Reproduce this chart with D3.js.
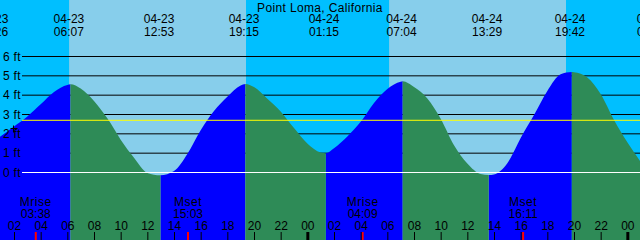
<!DOCTYPE html>
<html>
<head>
<meta charset="utf-8">
<script src="https://cdn.jsdelivr.net/npm/d3@7"></script>
<style>
  html, body { margin: 0; padding: 0; background: #fff; }
  svg { display: block; font-family: "Liberation Sans", Arial, sans-serif; }
</style>
</head>
<body>
<script>
const title = "Point Loma, California";

// tide height (ft), mostly hourly plus the turning points
const tideTimes = [
  "04-23 00:57", "04-23 02:00", "04-23 03:00", "04-23 04:00", "04-23 05:00", "04-23 06:00", "04-23 06:14",
  "04-23 07:00", "04-23 08:00", "04-23 09:00", "04-23 10:00", "04-23 11:00", "04-23 12:00", "04-23 12:59",
  "04-23 14:00", "04-23 15:00", "04-23 16:00", "04-23 17:00", "04-23 18:00", "04-23 19:00", "04-23 19:21",
  "04-23 20:00", "04-23 21:00", "04-23 22:00", "04-23 23:00", "04-24 00:00", "04-24 01:00", "04-24 01:23",
  "04-24 02:00", "04-24 03:00", "04-24 04:00", "04-24 05:00", "04-24 06:00", "04-24 07:00", "04-24 07:09",
  "04-24 08:00", "04-24 09:00", "04-24 10:00", "04-24 11:00", "04-24 12:00", "04-24 13:00", "04-24 13:36",
  "04-24 14:00", "04-24 15:00", "04-24 16:00", "04-24 17:00", "04-24 18:00", "04-24 19:00", "04-24 19:50",
  "04-24 20:00", "04-24 21:00", "04-24 22:00", "04-24 23:00", "04-25 00:00", "04-25 00:57"
];
const tideFeet = [
  1.85, 2.38, 2.90, 3.53, 4.17, 4.53, 4.56,
  4.34, 3.70, 2.80, 1.70, 0.76, -0.02, -0.14,
  0.08, 0.96, 2.19, 3.18, 3.92, 4.50, 4.58,
  4.42, 3.82, 3.16, 2.30, 1.50, 1.03, 0.99,
  1.25, 1.86, 2.62, 3.60, 4.32, 4.70, 4.72,
  4.42, 3.83, 2.78, 1.41, 0.46, -0.08, -0.13,
  -0.10, 0.48, 1.79, 2.97, 4.22, 5.08, 5.20,
  5.19, 4.92, 4.06, 2.72, 1.56, 0.60
];

// high / low tide labels along the top
const eventDates = ["04-23", "04-23", "04-23", "04-23", "04-24", "04-24", "04-24", "04-24", "04-25"];
const eventTimes = ["00:26", "06:07", "12:53", "19:15", "01:15", "07:04", "13:29", "19:42", "01:51"];

const sunrise = ["04-23 06:08", "04-24 06:08"];
const sunset = ["04-23 19:24", "04-24 19:24"];

const moonLabels = ["Mrise", "Mset", "Mrise", "Mset"];
const moonDates = ["04-23", "04-23", "04-24", "04-24"];
const moonTimes = ["03:38", "15:03", "04:09", "16:11"];

const footTicks = [0, 1, 2, 3, 4, 5, 6];
const mslFeet = 2.69;
const nowTime = "04-23 01:57";
const nowFeet = 2.31;

const startTime = "04-23 00:57";
const endTime = "04-25 00:57";

const width = 640;
const height = 240;
const parse = d3.utcParse("%m-%d %H:%M");

const tide = tideTimes.map((t, i) => ({ date: parse(t), ft: tideFeet[i] }));

const x = d3.scaleUtc()
  .domain([parse(startTime), parse(endTime)])
  .range([0, width]);

const y = d3.scaleLinear()
  .domain([0, 6])
  .range([172.5, 56.5]);

const svg = d3.create("svg")
  .attr("width", width)
  .attr("height", height)
  .attr("font-size", 12);

// night / day background
svg.append("rect")
  .attr("width", width).attr("height", height)
  .attr("fill", "#00bfff");
svg.append("g")
  .attr("fill", "#87ceeb")
  .selectAll("rect")
  .data(sunrise.map((s, i) => [parse(s), parse(sunset[i])]))
  .join("rect")
  .attr("x", d => x(d[0]))
  .attr("width", d => x(d[1]) - x(d[0]))
  .attr("height", height);

// foot grid, behind the water
svg.append("g")
  .attr("stroke", "#000")
  .selectAll("line")
  .data(footTicks.filter(d => d > 0))
  .join("line")
  .attr("x1", 22).attr("x2", width)
  .attr("y1", d => y(d)).attr("y2", d => y(d));

// rising (blue) / falling (green) intervals between turning points
const turns = [0];
for (let i = 1; i < tide.length - 1; i++) {
  const a = tide[i].ft - tide[i - 1].ft, b = tide[i + 1].ft - tide[i].ft;
  if (a * b < 0) turns.push(i);
}
turns.push(tide.length - 1);
const spans = d3.pairs(turns).map(([i, j]) => ({
  x0: x(tide[i].date), x1: x(tide[j].date), rising: tide[j].ft > tide[i].ft
}));

const defs = svg.append("defs");
["rise", "fall"].forEach(id => {
  defs.append("clipPath").attr("id", id)
    .selectAll("rect")
    .data(spans.filter(s => s.rising === (id === "rise")))
    .join("rect")
    .attr("x", s => s.x0).attr("width", s => s.x1 - s.x0)
    .attr("y", 0).attr("height", height);
});

const area = d3.area()
  .x(d => x(d.date))
  .y0(height)
  .y1(d => y(d.ft))
  .curve(d3.curveMonotoneX);

svg.append("path").attr("d", area(tide)).attr("fill", "#0000ff").attr("clip-path", "url(#rise)");
svg.append("path").attr("d", area(tide)).attr("fill", "#2e8b57").attr("clip-path", "url(#fall)");

// datum and mean sea level
svg.append("line")
  .attr("x1", 22).attr("x2", width)
  .attr("y1", y(0)).attr("y2", y(0))
  .attr("stroke", "#fff");
svg.append("line")
  .attr("x1", 22).attr("x2", width)
  .attr("y1", y(mslFeet) - 0.2).attr("y2", y(mslFeet) - 0.2)
  .attr("stroke", "#ffff00");

// foot labels
svg.append("g")
  .selectAll("text")
  .data(footTicks)
  .join("text")
  .attr("x", 3)
  .attr("y", d => y(d) + 4)
  .attr("letter-spacing", 0.3)
  .text(d => `${d} ft`);

// now marker
const nx = Math.round(x(parse(nowTime))) + 0.5, ny = Math.round(y(nowFeet)) + 0.5;
svg.append("path")
  .attr("d", `M${nx - 3},${ny}H${nx + 4}M${nx},${ny - 3}V${ny + 4}`)
  .attr("stroke", "#000");

// title and tide events
svg.append("text")
  .attr("x", width / 2).attr("y", 12)
  .attr("text-anchor", "middle")
  .attr("letter-spacing", 0.35)
  .text(title);

const events = svg.append("g")
  .attr("text-anchor", "middle")
  .selectAll("g")
  .data(eventTimes.map((t, i) => ({ d: eventDates[i], t, date: parse(`${eventDates[i]} ${t}`) })))
  .join("g")
  .attr("transform", e => `translate(${x(e.date)},0)`);
events.append("text").attr("y", 23).text(e => e.d);
events.append("text").attr("y", 36).text(e => e.t);

// moon rise / set
const moon = svg.append("g")
  .attr("text-anchor", "middle")
  .selectAll("g")
  .data(moonTimes.map((t, i) => ({ label: moonLabels[i], t, date: parse(`${moonDates[i]} ${t}`) })))
  .join("g")
  .attr("transform", m => `translate(${x(m.date)},0)`);
moon.append("text").attr("y", 206).attr("letter-spacing", 0.5).text(m => m.label);
moon.append("text").attr("y", 218).text(m => m.t);
moon.append("line")
  .attr("x1", 0).attr("x2", 0)
  .attr("y1", 232).attr("y2", height)
  .attr("stroke", "#ff0000")
  .attr("stroke-width", 2);

// hour axis along the bottom
const gx = svg.append("g")
  .attr("transform", `translate(0,${height})`)
  .call(d3.axisTop(x)
    .ticks(d3.utcHour.every(2))
    .tickFormat(d3.utcFormat("%H"))
    .tickSize(8)
    .tickPadding(2));
gx.select(".domain").remove();
gx.attr("font-size", 12).attr("font-family", null);
gx.selectAll(".tick text").attr("fill", "#000");
gx.selectAll(".tick line")
  .attr("stroke", "#000")
  .attr("stroke-width", d => d.getUTCHours() === 0 ? 3 : 1);

document.body.appendChild(svg.node());
</script>
</body>
</html>
